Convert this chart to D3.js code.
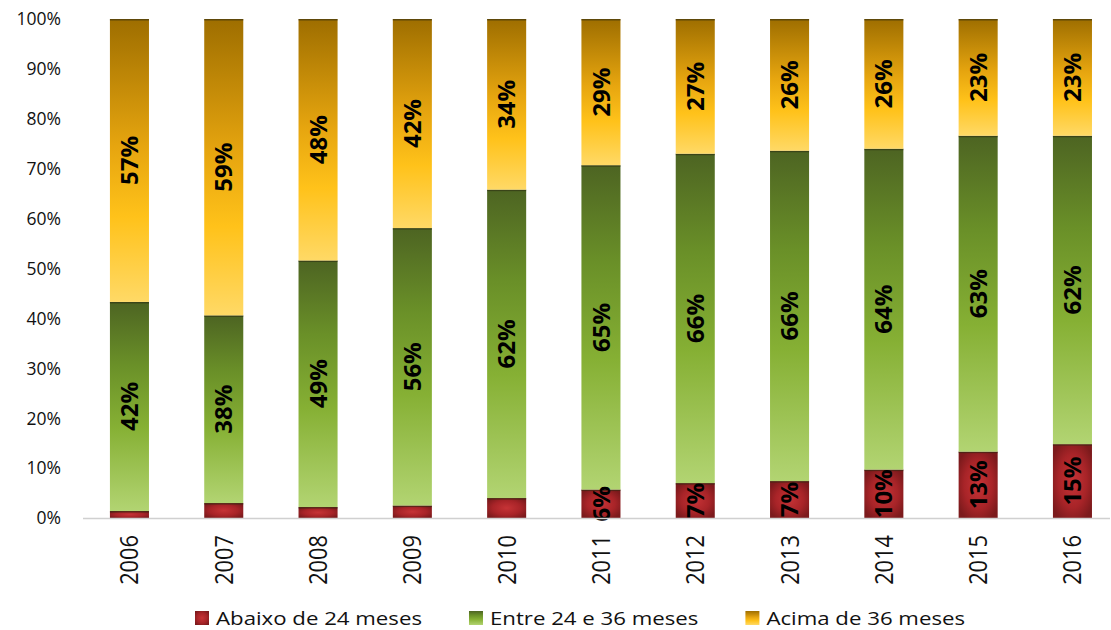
<!DOCTYPE html>
<html>
<head>
<meta charset="utf-8">
<script src="https://cdn.jsdelivr.net/npm/d3@7"></script>
<style>
  html, body { margin: 0; padding: 0; background: #fff; }
  svg { display: block; font-family: "Open Sans", Lato, "Liberation Sans", sans-serif; }
</style>
</head>
<body>
<svg id="chart" width="1111" height="630"></svg>
<script>
// Distribution by age band (share of total, %)
const years = ["2006","2007","2008","2009","2010","2011","2012","2013","2014","2015","2016"];
const abaixo24 = [1.4, 3.0, 2.2, 2.5, 4.0, 5.7, 7.0, 7.4, 9.7, 13.3, 14.8];
const entre24e36 = [41.9, 37.6, 49.4, 55.6, 61.8, 65.0, 66.0, 66.2, 64.3, 63.3, 61.8];
const acima36 = [56.7, 59.4, 48.4, 41.9, 34.2, 29.3, 27.0, 26.4, 26.0, 23.4, 23.4];
const seriesNames = ["Abaixo de 24 meses", "Entre 24 e 36 meses", "Acima de 36 meses"];
const yTicks = [0, 10, 20, 30, 40, 50, 60, 70, 80, 90, 100];
// bottom-series labels are only printed from 2011 on
const showBottomLabel = [false, false, false, false, false, true, true, true, true, true, true];

const svg = d3.select("#chart");
const xStretch = 1.14;      // slightly wide lettering
const legendStretch = 1.17;

const x = d3.scaleBand().domain(years).range([82.3, 1119.6]).paddingInner(0.586).paddingOuter(0.293);
const y = d3.scaleLinear().domain([0, 100]).range([518, 19]);

// gradients
const defs = svg.append("defs");
const gGold = defs.append("linearGradient").attr("id", "gold").attr("x1", 0).attr("y1", 1).attr("x2", 0).attr("y2", 0);
[[0, "#ffd966"], [0.3, "#ffc21a"], [0.55, "#e6a50f"], [1, "#9e6e00"]].forEach(s => gGold.append("stop").attr("offset", s[0]).attr("stop-color", s[1]));
const gGreen = defs.append("linearGradient").attr("id", "green").attr("x1", 0).attr("y1", 1).attr("x2", 0).attr("y2", 0);
[[0, "#b2d472"], [0.4, "#86b034"], [0.7, "#6a9028"], [1, "#4d6422"]].forEach(s => gGreen.append("stop").attr("offset", s[0]).attr("stop-color", s[1]));
const gRed = defs.append("radialGradient").attr("id", "red").attr("cx", 0.5).attr("cy", 0.5).attr("r", 0.6);
[[0, "#c63336"], [0.6, "#a82428"], [1, "#7c1a1c"]].forEach(s => gRed.append("stop").attr("offset", s[0]).attr("stop-color", s[1]));

const fills = ["url(#red)", "url(#green)", "url(#gold)"];

// y axis tick labels
svg.append("g").selectAll("text").data(yTicks).join("text")
  .attr("x", 61).attr("y", d => y(d)).attr("dy", "0.36em")
  .attr("text-anchor", "end").attr("font-size", 17.5).attr("fill", "#111")
  .text(d => d + "%");

// stacked bars
const stackRows = years.map((yr, i) => ({ year: yr, a: abaixo24[i], b: entre24e36[i], c: acima36[i], idx: i }));
const stacked = d3.stack().keys(["a", "b", "c"])(stackRows);

const barG = svg.append("g");
stacked.forEach((layer, li) => {
  const g = barG.append("g");
  g.selectAll("rect.seg").data(layer).join("rect")
    .attr("class", "seg")
    .attr("x", d => x(d.data.year))
    .attr("width", x.bandwidth())
    .attr("y", d => y(d[1]))
    .attr("height", d => y(d[0]) - y(d[1]))
    .attr("fill", fills[li]);
  // thin dark edge on top of each segment
  g.selectAll("rect.edge").data(layer).join("rect")
    .attr("class", "edge")
    .attr("x", d => x(d.data.year))
    .attr("width", x.bandwidth())
    .attr("y", d => y(d[1]))
    .attr("height", 1.5)
    .attr("fill", "#2a2a10").attr("opacity", 0.55);
});

// x axis line
svg.append("line").attr("x1", 83).attr("x2", 1110).attr("y1", 518.5).attr("y2", 518.5)
  .attr("stroke", "#d0d0d0").attr("stroke-width", 1.5);

// data labels
stacked.forEach((layer, li) => {
  barG.append("g").selectAll("text").data(layer.filter(d => li > 0 || showBottomLabel[d.data.idx])).join("text")
    .attr("transform", d => {
      const cx = x(d.data.year) + x.bandwidth() / 2;
      const cy = (y(d[0]) + y(d[1])) / 2;
      return `translate(${cx},${cy}) rotate(-90)`;
    })
    .attr("text-anchor", "middle").attr("dy", "0.36em")
    .attr("font-size", 24).attr("font-weight", "bold").attr("fill", "#000")
    .text(d => Math.round(d[1] - d[0]) + "%");
});

// x axis labels
svg.append("g").selectAll("text").data(years).join("text")
  .attr("transform", d => `translate(${x(d) + x.bandwidth() / 2},535) scale(${xStretch},1) rotate(-90)`)
  .attr("text-anchor", "end").attr("dy", "0.36em")
  .attr("font-size", 21.8).attr("fill", "#111")
  .text(d => d);

// legend, laid out left to right
const legend = svg.append("g");
let lx = 195;
seriesNames.forEach((name, i) => {
  legend.append("rect").attr("x", lx).attr("y", 611).attr("width", 14).attr("height", 14).attr("fill", fills[i]);
  const t = legend.append("text")
    .attr("transform", `translate(${lx + 21},624.5) scale(${legendStretch},1)`)
    .attr("font-size", 19).attr("fill", "#111").text(name);
  const w = t.node().getComputedTextLength() * legendStretch;
  lx += 21 + w + 47;
});
</script>
</body>
</html>
